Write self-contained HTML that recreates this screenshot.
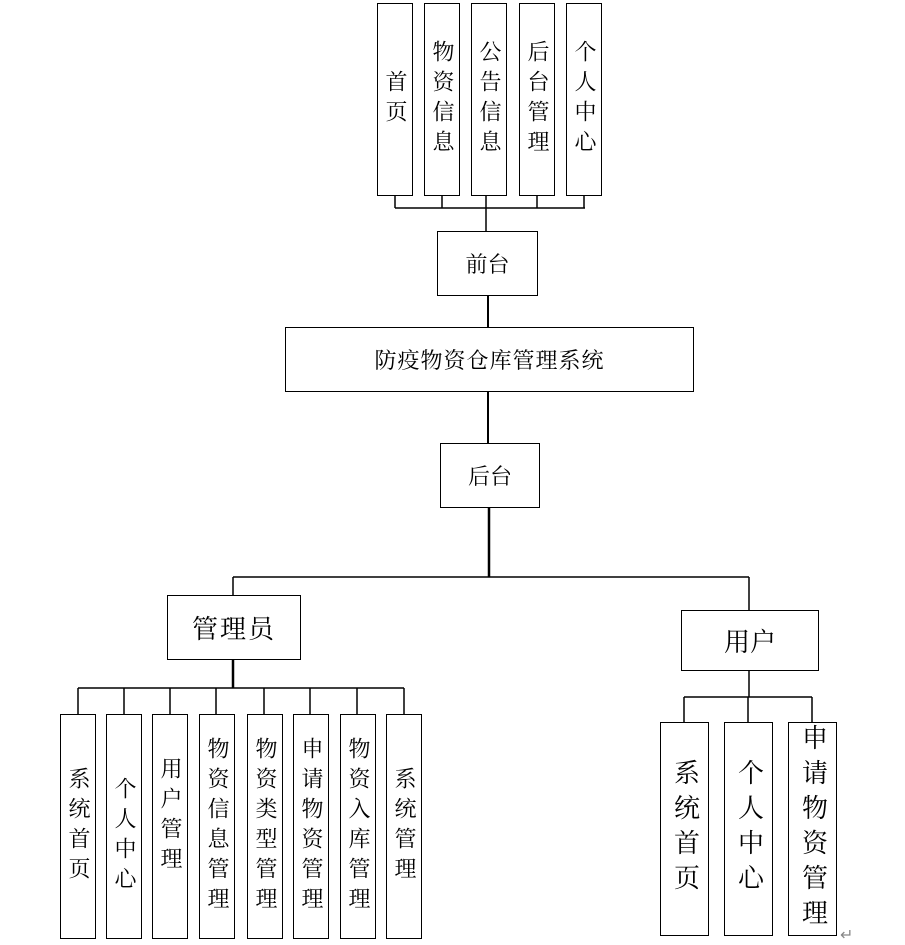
<!DOCTYPE html>
<html><head><meta charset="utf-8"><style>
body{margin:0;background:#fff;width:905px;height:945px;position:relative;overflow:hidden;font-family:"Liberation Serif","Noto Serif CJK SC","Noto Sans CJK SC",serif;color:#000}
.b{position:absolute;border:1.3px solid #000;box-sizing:border-box;display:flex;align-items:center;justify-content:center;background:#fff}
.v{writing-mode:vertical-rl;font-size:22px;letter-spacing:8px;line-height:1}
.h{font-size:22px}
svg{position:absolute;left:0;top:0}
</style></head><body>
<svg width="905" height="945">
<g stroke="#000" stroke-width="1.5" fill="none">
<path d="M395 195V208M442 195V208M486 195V208M537 195V208M584 195V208M395 208H585M486 208V231"/>
<path d="M488 295V327M488 391V443" stroke-width="2"/>
<path d="M489 507V577" stroke-width="2.5"/>
<path d="M233 577H749M233 577V595M749 577V610"/>
<path d="M233 659V688" stroke-width="2.5"/>
<path d="M78 688H404M78 688V714M124 688V714M170 688V714M216 688V714M264 688V714M310 688V714M357 688V714M404 688V714"/>
<path d="M749 670V697M684 697H812M684 697V722M748 697V722M812 697V722"/>
</g>
<text x="840" y="940" font-size="16" fill="#888">↵</text>
</svg>
<div class="b" style="left:377px;top:3px;width:36px;height:193px"><span class="v">首页</span></div>
<div class="b" style="left:424px;top:3px;width:36px;height:193px"><span class="v">物资信息</span></div>
<div class="b" style="left:471px;top:3px;width:36px;height:193px"><span class="v">公告信息</span></div>
<div class="b" style="left:519px;top:3px;width:36px;height:193px"><span class="v">后台管理</span></div>
<div class="b" style="left:566px;top:3px;width:36px;height:193px"><span class="v">个人中心</span></div>
<div class="b" style="left:437px;top:231px;width:101px;height:65px"><span class="h">前台</span></div>
<div class="b" style="left:285px;top:327px;width:409px;height:65px"><span class="h" style="letter-spacing:1px">防疫物资仓库管理系统</span></div>
<div class="b" style="left:440px;top:443px;width:100px;height:65px"><span class="h">后台</span></div>
<div class="b" style="left:167px;top:595px;width:134px;height:65px"><span class="h" style="font-size:26px;letter-spacing:2px">管理员</span></div>
<div class="b" style="left:681px;top:610px;width:138px;height:61px"><span class="h" style="font-size:26px">用户</span></div>
<div class="b" style="left:60px;top:714px;width:36px;height:225px"><span class="v">系统首页</span></div>
<div class="b" style="left:106px;top:714px;width:36px;height:225px"><span class="v" style="margin-top:20px">个人中心</span></div>
<div class="b" style="left:152px;top:714px;width:36px;height:225px"><span class="v" style="margin-bottom:20px">用户管理</span></div>
<div class="b" style="left:199px;top:714px;width:36px;height:225px"><span class="v">物资信息管理</span></div>
<div class="b" style="left:247px;top:714px;width:36px;height:225px"><span class="v">物资类型管理</span></div>
<div class="b" style="left:293px;top:714px;width:36px;height:225px"><span class="v">申请物资管理</span></div>
<div class="b" style="left:340px;top:714px;width:36px;height:225px"><span class="v">物资入库管理</span></div>
<div class="b" style="left:386px;top:714px;width:36px;height:225px"><span class="v">系统管理</span></div>
<div class="b" style="left:660px;top:722px;width:49px;height:214px"><span class="v" style="font-size:26px;letter-spacing:9px">系统首页</span></div>
<div class="b" style="left:724px;top:722px;width:49px;height:214px"><span class="v" style="font-size:26px;letter-spacing:9px">个人中心</span></div>
<div class="b" style="left:788px;top:722px;width:49px;height:214px"><span class="v" style="font-size:26px;letter-spacing:9px">申请物资管理</span></div>
</body></html>
